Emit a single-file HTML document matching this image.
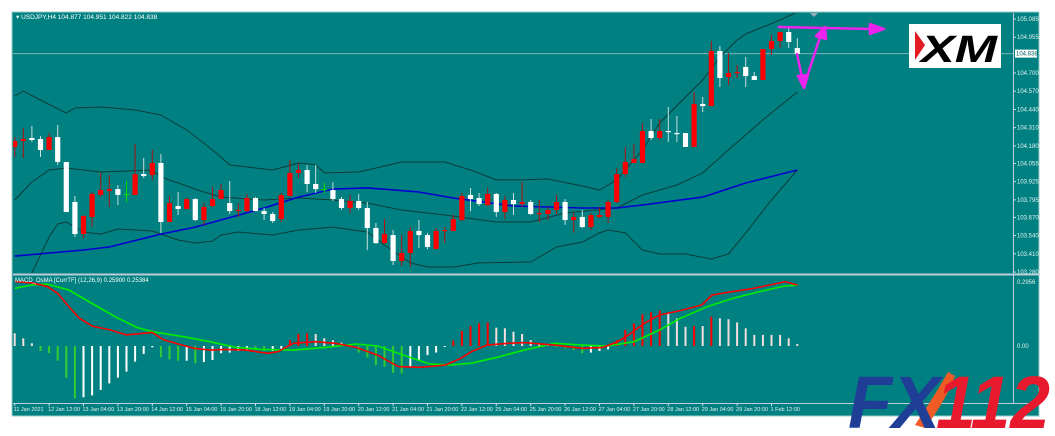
<!DOCTYPE html>
<html><head><meta charset="utf-8"><style>
html,body{margin:0;padding:0;background:#fff;width:1055px;height:436px;overflow:hidden}
svg{display:block;font-family:"Liberation Sans",sans-serif}
</style></head><body>
<svg id="chart" width="1055" height="436" viewBox="0 0 1055 436" xmlns="http://www.w3.org/2000/svg">
<rect x="0" y="0" width="1055" height="436" fill="#fff"/>
<rect x="12" y="12" width="1027" height="404" fill="#008080" stroke="#9cc" stroke-width="1"/>
<defs>
<clipPath id="mainClip"><rect x="13" y="13" width="1000" height="260"/></clipPath>
<clipPath id="macdClip"><rect x="13" y="277" width="1000" height="126"/></clipPath>
</defs>
<line x1="13" y1="274.5" x2="1039" y2="274.5" stroke="#bcd" stroke-width="2"/>
<line x1="1013.5" y1="13" x2="1013.5" y2="404" stroke="#bcd" stroke-width="1"/>
<line x1="13" y1="403.5" x2="1039" y2="403.5" stroke="#bcd" stroke-width="1"/>
<g id="mainG" clip-path="url(#mainClip)"></g>
<g id="macdG" clip-path="url(#macdClip)"></g>
<g id="axisG"></g>
<text x="16" y="19" font-size="6.5" fill="#fff">▾ USDJPY,H4  104.877 104.951 104.822 104.838</text>
<text x="15" y="282" font-size="6" fill="#fff">MACD_OsMA [CurrTF] (12,26,9) 0.25900 0.25384</text>
<path d="M810 13 l4 4 l4 -4 z" fill="#9ab"/>
<g stroke="#ee22ee" fill="#ee22ee" stroke-width="2.5" stroke-linecap="round" stroke-linejoin="round">
<polyline points="779,27 872,29" fill="none"/>
<path d="M870 24 L884 29 L870 34 Z"/>
<polyline points="797,54 803,82" fill="none"/>
<path d="M798 76 L804 88 L808 75 Z"/>
<polyline points="804,86 821,34" fill="none"/>
<path d="M816 36 L825 27 L826 39 Z"/>
</g>
<g>
<rect x="909" y="24" width="92" height="44" fill="#fff"/>
<path d="M915 31 L925 45 L915 60 Z" fill="#e21b23"/>
<text x="921" y="62" font-size="38" font-weight="bold" font-style="italic" fill="#000" textLength="76" lengthAdjust="spacingAndGlyphs">XM</text>
</g>
<g>
<path d="M915 425 Q935 395 948 372 L955 376 Q945 402 925 428 Z" fill="#f05a24"/>
<text x="848" y="428" font-size="74" font-weight="bold" font-style="italic" fill="#1f3f97" textLength="92" lengthAdjust="spacingAndGlyphs">FX</text>
<text x="936" y="428" font-size="74" font-weight="bold" font-style="italic" fill="#e8192c" textLength="114" lengthAdjust="spacingAndGlyphs">112</text>
</g>
</svg>
<script>
// ---- price data (USDJPY H4) ----
const opens=[104.172,104.215,104.236,104.229,104.151,104.243,104.065,103.780,103.551,103.673,103.830,103.858,103.872,103.837,103.830,103.979,103.972,104.058,103.637,103.751,103.730,103.801,103.651,103.751,103.801,103.772,103.715,103.715,103.808,103.715,103.694,103.658,103.822,103.987,104.008,103.908,103.872,103.865,103.801,103.737,103.787,103.737,103.594,103.487,103.544,103.359,103.416,103.573,103.544,103.444,103.573,103.573,103.651,103.830,103.808,103.758,103.837,103.708,103.794,103.765,103.780,103.694,103.694,103.723,103.780,103.651,103.673,103.601,103.673,103.673,103.780,103.979,104.058,104.058,104.286,104.236,104.286,104.272,104.272,104.172,104.479,104.464,104.857,104.671,104.700,104.743,104.678,104.650,104.871,104.928,104.992,104.878];
const highs=[104.243,104.307,104.322,104.250,104.272,104.329,104.065,103.822,103.687,103.851,103.987,103.972,103.901,103.929,104.193,104.094,104.151,104.122,103.822,103.851,103.808,103.808,103.772,103.887,103.908,103.929,103.772,103.837,103.815,103.737,103.708,103.844,104.079,104.058,104.044,104.044,103.915,103.922,103.815,103.830,103.837,103.780,103.630,103.658,103.580,103.544,103.601,103.651,103.559,103.594,103.601,103.687,103.844,103.880,103.844,103.880,103.844,103.822,103.844,103.922,103.794,103.794,103.744,103.830,103.801,103.701,103.723,103.701,103.744,103.794,104.022,104.172,104.193,104.343,104.372,104.372,104.457,104.393,104.272,104.564,104.529,104.928,104.892,104.842,104.757,104.814,104.707,104.871,104.971,104.992,105.028,104.949];
const lows=[104.101,104.094,104.208,104.101,104.151,104.044,103.708,103.530,103.523,103.601,103.815,103.744,103.758,103.780,103.830,103.951,103.937,103.559,103.637,103.687,103.730,103.644,103.616,103.744,103.801,103.694,103.673,103.708,103.715,103.651,103.630,103.637,103.822,103.951,103.851,103.844,103.844,103.787,103.723,103.701,103.723,103.437,103.480,103.480,103.330,103.323,103.316,103.452,103.444,103.444,103.487,103.573,103.644,103.715,103.751,103.751,103.673,103.658,103.687,103.744,103.687,103.637,103.651,103.694,103.616,103.559,103.594,103.580,103.666,103.630,103.772,103.958,104.058,104.058,104.222,104.222,104.208,104.208,104.172,104.172,104.422,104.464,104.600,104.614,104.664,104.600,104.650,104.650,104.828,104.878,104.878,104.821];
const closes=[104.215,104.229,104.222,104.151,104.243,104.065,103.708,103.551,103.680,103.837,103.865,103.872,103.830,103.837,103.979,103.965,104.058,103.637,103.772,103.730,103.801,103.651,103.744,103.801,103.865,103.715,103.723,103.808,103.715,103.694,103.644,103.830,103.987,104.008,103.908,103.872,103.872,103.801,103.737,103.787,103.737,103.594,103.487,103.551,103.359,103.416,103.573,103.544,103.459,103.573,103.580,103.658,103.822,103.801,103.765,103.837,103.708,103.794,103.765,103.780,103.694,103.701,103.723,103.780,103.651,103.673,103.601,103.687,103.687,103.780,103.979,104.065,104.086,104.286,104.236,104.286,104.279,104.265,104.172,104.479,104.464,104.857,104.664,104.700,104.707,104.678,104.650,104.871,104.928,104.992,104.921,104.835];
const currentPrice=104.838;
// Bollinger bands / MA knots: bar index and price
const upperIdx=[0,1,3,6,7,10,14,17,20,23,25,28,30,33,35,36,40,45,50,53,56,59,62,66,68,70,73,75,78,80,82,84,85,87,89,91];
const upperVal=[104.536,104.571,104.507,104.414,104.450,104.457,104.436,104.400,104.293,104.151,104.044,104.022,104.008,104.058,104.044,103.987,103.994,104.065,104.065,104.008,103.937,103.937,103.944,103.894,103.865,103.937,104.151,104.343,104.529,104.650,104.814,104.935,104.978,105.028,105.078,105.135];
const midIdx=[0,2,4,6,10,16,17,22,24,29,33,37,41,45,50,56,60,64,70,73,77,80,83,87,91];
const midVal=[103.794,103.922,104.008,104.022,103.994,104.008,103.958,103.851,103.815,103.794,103.808,103.794,103.772,103.723,103.687,103.637,103.637,103.701,103.737,103.830,103.901,103.987,104.151,104.365,104.564];
const lowerIdx=[1,2,4,5,6,8,10,12,16,19,21,23,24,26,30,33,37,41,43,46,48,51,54,60,63,66,68,69,71,73,75,78,81,83,85,88,91];
const lowerVal=[103.081,103.273,103.530,103.623,103.637,103.566,103.551,103.587,103.573,103.509,103.487,103.501,103.544,103.566,103.544,103.580,103.601,103.566,103.473,103.345,103.316,103.316,103.345,103.352,103.459,103.494,103.559,103.580,103.559,103.437,103.409,103.409,103.373,103.409,103.559,103.794,104.008];
const maIdx=[0,8,11,17,21,29,33,37,41,47,51,58,66,70,73,80,85,91];
const maVal=[103.394,103.437,103.459,103.551,103.601,103.737,103.815,103.872,103.880,103.851,103.808,103.751,103.737,103.737,103.758,103.815,103.915,104.008];
// MACD OsMA histogram (per bar) and lines
const osma=[0.056,0.034,0.012,-0.022,-0.032,-0.065,-0.140,-0.231,-0.226,-0.218,-0.194,-0.165,-0.140,-0.113,-0.069,-0.035,-0.006,-0.050,-0.059,-0.065,-0.065,-0.076,-0.071,-0.062,-0.032,-0.029,-0.022,-0.015,-0.018,-0.022,-0.022,-0.012,0.026,0.053,0.056,0.053,0.034,0.026,0.015,0.004,-0.029,-0.050,-0.084,-0.091,-0.118,-0.121,-0.091,-0.062,-0.040,-0.029,-0.003,0.024,0.066,0.088,0.100,0.103,0.081,0.078,0.063,0.053,0.026,0.012,0.009,-0.003,-0.010,-0.018,-0.032,-0.029,-0.022,-0.015,0.026,0.071,0.100,0.140,0.149,0.156,0.144,0.122,0.085,0.088,0.088,0.129,0.122,0.118,0.104,0.078,0.049,0.049,0.049,0.049,0.034,0.009];
const macdIdx=[0,2,3.8,5,6.3,7.5,9,11.1,13,14.2,16,17.2,19,20.9,22.7,24.5,26.9,29.4,30.6,32.4,34.9,37.3,39.7,42.2,44.6,47,48.2,50.1,51.9,53.1,54.9,57.4,59.2,62.8,65.9,68.3,70.1,71.4,73.2,75,77.4,79.9,81.1,83.5,85.9,87.8,89.6,91];
const macdVal=[0.284,0.279,0.262,0.232,0.174,0.123,0.088,0.071,0.049,0.053,0.060,0.029,0.009,-0.010,-0.018,-0.015,-0.018,-0.032,-0.025,0.012,0.019,0.012,-0.006,-0.040,-0.091,-0.094,-0.091,-0.084,-0.054,-0.025,0.004,0.012,0.015,0.004,-0.010,-0.007,0.019,0.049,0.100,0.137,0.156,0.181,0.225,0.240,0.254,0.269,0.284,0.269];
const signalIdx=[0,2,3.8,6.3,9.3,11.7,14.2,16,19.6,22.7,25.7,28.8,32.4,36.1,39.7,42.2,45.2,48.2,50.7,53.1,56.1,59.2,62.8,65.9,68.9,72,75,77.4,80.5,83.5,86.6,89.6,91];
const signalVal=[0.254,0.269,0.273,0.247,0.181,0.129,0.082,0.063,0.041,0.019,-0.006,-0.015,-0.018,-0.006,0.009,0.000,-0.040,-0.079,-0.084,-0.076,-0.050,-0.018,0.012,0.004,0.000,0.019,0.071,0.122,0.173,0.210,0.240,0.265,0.268];
// axis labels
const priceTicks=["105.085","104.955","104.700","104.570","104.440","104.310","104.180","104.055","103.925","103.795","103.670","103.540","103.410","103.280"];
const timeLabels=["11 Jan 2021","12 Jan 12:00","13 Jan 04:00","13 Jan 20:00","14 Jan 12:00","15 Jan 04:00","15 Jan 20:00","18 Jan 12:00","19 Jan 04:00","19 Jan 20:00","20 Jan 12:00","21 Jan 04:00","21 Jan 20:00","22 Jan 12:00","25 Jan 04:00","25 Jan 20:00","26 Jan 12:00","27 Jan 04:00","27 Jan 20:00","28 Jan 12:00","29 Jan 04:00","29 Jan 20:00","1 Feb 12:00"];
const macdTicks=["0.2956","0.00"];

const NS="http://www.w3.org/2000/svg";
const X0=14.7, DX=8.6;
function xOf(i){return X0+DX*i;}
function yP(p){return 19+(105.085-p)*140.2;}
function yM(v){return 346-v*226.7;}
function mk(tag,attrs,parent){const e=document.createElementNS(NS,tag);for(const k in attrs)e.setAttribute(k,attrs[k]);parent.appendChild(e);return e;}
const mainG=document.getElementById('mainG'), macdG=document.getElementById('macdG'), axisG=document.getElementById('axisG');

// current price line
let cl=mk('line',{x1:13,x2:1013,y1:yP(currentPrice),y2:yP(currentPrice),stroke:'#7fb3b3','stroke-width':1},mainG);



function poly(idx,vals,yf,color,w,parent,name){
  const pts=idx.map((i,k)=>xOf(i).toFixed(1)+','+yf(vals[k]).toFixed(1)).join(' ');
  const p=mk('polyline',{points:pts,fill:'none',stroke:color,'stroke-width':w,'stroke-linejoin':'round'},parent);
  
  
}
poly(upperIdx,upperVal,yP,'#0d3d3a',1,mainG,'bollinger-upper');
poly(midIdx,midVal,yP,'#0d3d3a',1,mainG,'bollinger-middle');
poly(lowerIdx,lowerVal,yP,'#0d3d3a',1,mainG,'bollinger-lower');
poly(maIdx,maVal,yP,'#0000d0',1.6,mainG,'moving-average');

// candles
for(let i=0;i<opens.length;i++){
  const o=opens[i],h=highs[i],l=lows[i],c=closes[i],x=xOf(i);
  const up=c>o, doji=c===o;
  const col=doji?'#00dd00':(up?'#ff0000':'#ffffff');
  const wc=doji?'#00dd00':(up?'#b01010':'#c8dede');
  const g=mk('g',{},mainG);
  
  
  mk('line',{x1:x,x2:x,y1:yP(h),y2:yP(l),stroke:wc,'stroke-width':1},g);
  const top=yP(Math.max(o,c)), bot=yP(Math.min(o,c));
  mk('rect',{x:x-2.6,y:top,width:5.2,height:Math.max(1.2,bot-top),fill:col},g);
}

// OsMA histogram
for(let i=0;i<osma.length;i++){
  const v=osma[i], pv=i>0?osma[i-1]:v;
  let col;
  if(v>0&&v>pv) col='#ff0000';
  else if(v<0&&v<pv) col='#33cc33';
  else if(v>0) col='#f4dede';
  else col='#ffffff';
  const y0=yM(0), y1=yM(v);
  const b=mk('rect',{x:xOf(i)-1,y:Math.min(y0,y1),width:2,height:Math.max(1,Math.abs(y1-y0)),fill:col},macdG);
  
  
}
poly(signalIdx,signalVal,yM,'#00ee00',1.6,macdG,'macd-signal-line');
poly(macdIdx,macdVal,yM,'#ff0000',1.6,macdG,'macd-main-line');

// price axis
priceTicks.forEach(t=>{
  const y=yP(parseFloat(t));
  const tk=mk('line',{x1:1013,x2:1016,y1:y,y2:y,stroke:'#cde','stroke-width':1},axisG);
  
  
  const tx=mk('text',{x:1017,y:y+2,'font-size':6,fill:'#e6f2f2'},axisG);
  tx.textContent=t;
  
  
});
const cy=yP(currentPrice);
const cbox=mk('rect',{x:1015,y:cy-4,width:22,height:8,fill:'#ffffff'},axisG);


const ctx=mk('text',{x:1016,y:cy+2,'font-size':6,fill:'#006060'},axisG);
ctx.textContent=currentPrice.toFixed(3);



// macd axis
macdTicks.forEach(t=>{
  const y=yM(parseFloat(t));
  const ty=t==="0.00"?y:y+3;
  const tx=mk('text',{x:1017,y:ty+2,'font-size':6,fill:'#e6f2f2'},axisG);
  tx.textContent=t;
  
  
});

// time axis
timeLabels.forEach((t,k)=>{
  const x=xOf(k*4);
  const tk=mk('line',{x1:x,x2:x,y1:403,y2:406,stroke:'#cde','stroke-width':1},axisG);
  
  
  const tx=mk('text',{x:x-1,y:411,'font-size':5.5,fill:'#e6f2f2'},axisG);
  tx.textContent=t;
  
  
});
</script>
</body></html>
